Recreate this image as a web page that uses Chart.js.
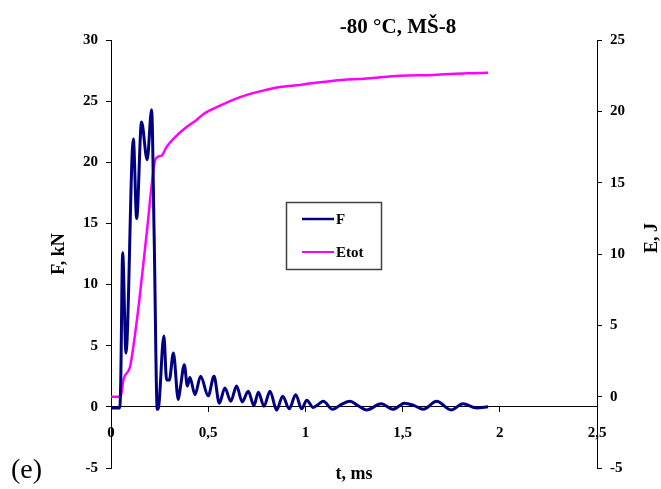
<!DOCTYPE html>
<html>
<head>
<meta charset="utf-8">
<script src="https://cdn.jsdelivr.net/npm/chart.js@4.4.1/dist/chart.umd.min.js"></script>
<style>
  html, body { margin: 0; padding: 0; background: #fff; }
  #wrap { width: 661px; height: 489px; }
</style>
</head>
<body>
<div id="wrap"><canvas id="impactChart" width="661" height="489"></canvas></div>
<script>
// force record, t in ms, F in kN
const tForce = [0, 0.045, 0.05, 0.06, 0.077, 0.115, 0.132, 0.157, 0.186, 0.209, 0.222, 0.238, 0.245,
  0.272, 0.286, 0.30, 0.321, 0.346, 0.358, 0.377, 0.393, 0.406, 0.432, 0.461, 0.5, 0.53, 0.557,
  0.586, 0.616, 0.646, 0.675, 0.706, 0.735, 0.758, 0.787, 0.818, 0.852, 0.883, 0.917, 0.95, 0.981,
  1.007, 1.04, 1.066, 1.092, 1.14, 1.185, 1.23, 1.27, 1.315, 1.39, 1.45, 1.51, 1.56, 1.606, 1.675,
  1.75, 1.81, 1.88, 1.94];
const force = [-0.1, -0.1, 2, 12.6, 4.4, 21.9, 15.4, 23.3, 20.2, 24.3, 14, -0.2, 0,
  5.8, 2.2, 2.2, 4.4, 0.6, 1.7, 3.45, 1.7, 2.4, 1.0, 2.5, 0.9, 2.5, 0.3,
  1.55, 0.46, 1.7, 0.4, 1.28, 0.1, 1.2, 0.05, 1.28, -0.27, 0.87, -0.16, 1.0, -0.16,
  0.55, -0.05, 0.2, 0.45, -0.2, 0.2, 0.45, 0.1, -0.25, 0.25, -0.2, 0.3, 0.1, -0.2, 0.45,
  -0.25, 0.25, -0.1, 0];

// total energy, E in J
const tEnergy = [0, 0.05, 0.064, 0.098, 0.12, 0.146, 0.184, 0.231, 0.26, 0.286, 0.338, 0.389, 0.44,
  0.48, 0.561, 0.664, 0.766, 0.869, 0.972, 1.144, 1.315, 1.487, 1.658, 1.83, 1.94];
const energy = [0, 0, 1.2, 2.1, 4.0, 6.8, 11.5, 16.7, 16.9, 17.5, 18.3, 18.9, 19.4,
  19.85, 20.4, 21.0, 21.4, 21.7, 21.85, 22.15, 22.3, 22.5, 22.55, 22.67, 22.7];

const seriesNames = ["F", "Etot"];
const seriesColors = ["#000080", "#ff00ff"];
const chartTitle = "-80 °C, MŠ-8";

const serif = "Liberation Serif";

const decorations = {
  id: "decorations",
  afterDraw(chart) {
    const ctx = chart.ctx;
    ctx.save();
    ctx.fillStyle = "#000";
    ctx.textBaseline = "middle";

    ctx.font = "bold 21px '" + serif + "'";
    ctx.textAlign = "center";
    ctx.fillText(chartTitle, 398, 28);

    // right axis title, reads bottom to top like the left one
    ctx.save();
    ctx.translate(652, 238);
    ctx.rotate(-Math.PI / 2);
    ctx.font = "bold 18px '" + serif + "'";
    ctx.fillText("E, J", 0, 0);
    ctx.restore();

    ctx.font = "28px '" + serif + "'";
    ctx.textAlign = "left";
    ctx.textBaseline = "alphabetic";
    ctx.fillText("(e)", 11, 478);

    // legend box
    ctx.fillStyle = "#fff";
    ctx.fillRect(286, 202, 95, 67);
    ctx.strokeStyle = "#404040";
    ctx.lineWidth = 1.5;
    ctx.strokeRect(286.5, 202.5, 95, 67);
    ctx.font = "bold 15px '" + serif + "'";
    ctx.textBaseline = "middle";
    seriesNames.forEach((name, i) => {
      const y = 219 + i * 33;
      ctx.strokeStyle = seriesColors[i];
      ctx.lineWidth = i === 0 ? 2.5 : 2;
      ctx.beginPath();
      ctx.moveTo(302, y);
      ctx.lineTo(334, y);
      ctx.stroke();
      ctx.fillStyle = "#000";
      ctx.fillText(name, 336, y + 1);
    });
    ctx.restore();
  }
};

const tickFont = { family: serif, size: 15, weight: "bold" };

new Chart(document.getElementById("impactChart"), {
  type: "line",
  data: {
    datasets: [{
      label: seriesNames[0],
      data: tForce.map((t, i) => ({ x: t, y: force[i] })),
      borderColor: seriesColors[0],
      borderWidth: 3,
      pointRadius: 0,
      cubicInterpolationMode: "monotone",
      yAxisID: "y"
    }, {
      label: seriesNames[1],
      data: tEnergy.map((t, i) => ({ x: t, y: energy[i] })),
      borderColor: seriesColors[1],
      borderWidth: 2.5,
      pointRadius: 0,
      cubicInterpolationMode: "monotone",
      yAxisID: "y1"
    }]
  },
  options: {
    responsive: false,
    animation: false,
    devicePixelRatio: 1,
    layout: { padding: { top: 40, bottom: 21, left: 0, right: 0 } },
    plugins: {
      legend: { display: false },
      tooltip: { enabled: false },
      title: { display: false }
    },
    scales: {
      x: {
        type: "linear",
        position: { y: 0 },
        min: 0,
        max: 2.5,
        grid: { drawOnChartArea: false, tickLength: 5, color: "#000" },
        border: { color: "#000", width: 1 },
        ticks: {
          stepSize: 0.5,
          padding: 12,
          color: "#000",
          font: tickFont,
          maxRotation: 0,
          callback: v => String(v).replace(".", ",")
        },
        title: {
          display: true,
          text: "t, ms",
          color: "#000",
          font: { family: serif, size: 18, weight: "bold" },
          padding: { top: 10, bottom: 0 }
        }
      },
      y: {
        position: "left",
        min: -5,
        max: 30,
        afterFit: s => { s.width = 111; },
        grid: { drawOnChartArea: false, tickLength: 5, color: "#000" },
        border: { color: "#000", width: 1 },
        ticks: { stepSize: 5, padding: 8, color: "#000", font: tickFont },
        title: {
          display: true,
          text: "F, kN",
          color: "#000",
          font: { family: serif, size: 18, weight: "bold" },
          padding: { top: 49, bottom: 0 }
        }
      },
      y1: {
        position: "right",
        min: -5,
        max: 25,
        afterFit: s => { s.width = 64; },
        grid: { drawOnChartArea: false, tickLength: 5, color: "#000" },
        border: { color: "#000", width: 1 },
        ticks: { stepSize: 5, padding: 8, color: "#000", font: tickFont }
      }
    }
  },
  plugins: [decorations]
});
</script>
</body>
</html>
